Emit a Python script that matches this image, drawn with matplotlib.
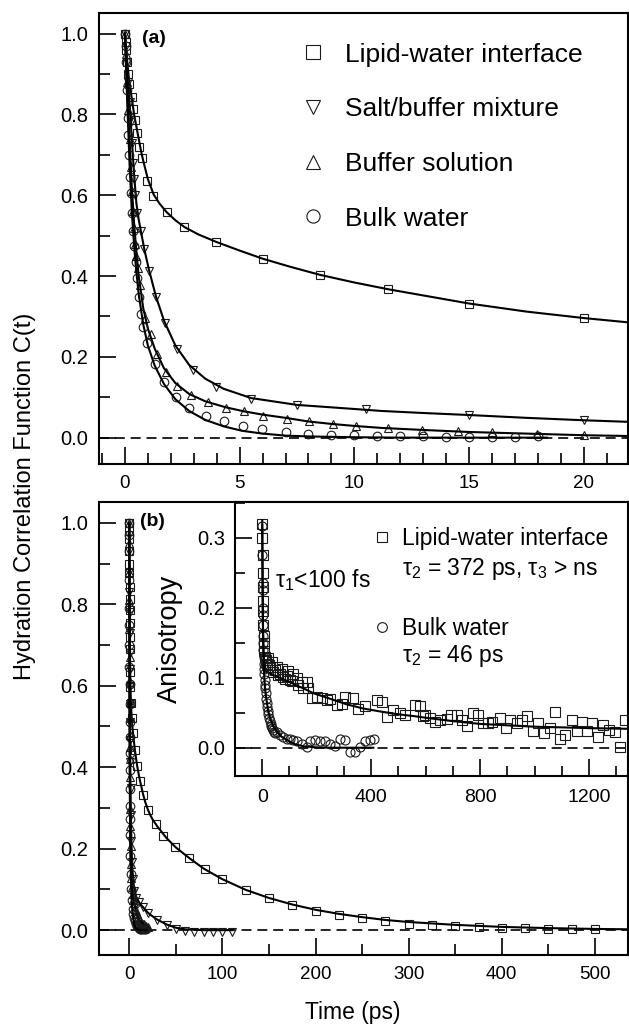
import matplotlib
matplotlib.use("Agg")
import matplotlib.pyplot as plt
from matplotlib.lines import Line2D
from matplotlib.ticker import MultipleLocator, FormatStrFormatter

plt.rcParams["font.family"] = ["Liberation Sans", "DejaVu Sans"]
plt.rcParams["mathtext.fontset"] = "custom"
plt.rcParams["mathtext.rm"] = "Liberation Sans"
plt.rcParams["mathtext.it"] = "Liberation Sans"
plt.rcParams["mathtext.bf"] = "Liberation Sans:bold"

# ---- hydration correlation data, time in ps (shared by panels a and b) ----
lipid_t = [0, 0.03, 0.06, 0.1, 0.14, 0.19, 0.29, 0.36, 0.45, 0.54, 0.62, 0.73, 0.97, 1.24,
           1.82, 2.59, 3.97, 6.0, 8.49, 11.47, 15.0, 20.0, 28.5, 36.5, 49, 64, 81, 100,
           125, 150, 175, 200, 225, 250, 275, 300, 325, 350, 375, 400, 425, 450, 475, 500]
lipid_c = [1.0, 0.98, 0.96, 0.93, 0.90, 0.876, 0.843, 0.814, 0.786, 0.753, 0.720, 0.691, 0.634,
           0.597, 0.558, 0.521, 0.484, 0.443, 0.403, 0.367, 0.332, 0.296, 0.260, 0.231, 0.203,
           0.176, 0.150, 0.125, 0.098, 0.080, 0.061, 0.047, 0.037, 0.030, 0.023, 0.016, 0.013,
           0.011, 0.008, 0.006, 0.005, 0.002, 0.002, 0.002]
lipid_fit_t = [0, 0.1, 0.2, 0.3, 0.4, 0.5, 0.6, 0.7, 0.8, 1.0, 1.25, 1.5, 1.82, 2.2, 2.6, 3.2, 4,
               5, 6, 7.2, 8.5, 10, 11.5, 13, 15, 17.5, 20, 22, 25, 30, 40, 50, 65, 80, 100, 125,
               150, 175, 200, 225, 250, 275, 300, 350, 400, 450, 500, 540]
lipid_fit_c = [1.0, 0.93, 0.875, 0.84, 0.80, 0.77, 0.74, 0.71, 0.685, 0.64, 0.602, 0.58, 0.558,
               0.538, 0.521, 0.503, 0.484, 0.463, 0.443, 0.423, 0.403, 0.384, 0.367, 0.352,
               0.332, 0.312, 0.296, 0.285, 0.272, 0.255, 0.226, 0.203, 0.176, 0.151, 0.125,
               0.099, 0.079, 0.063, 0.050, 0.040, 0.032, 0.025, 0.020, 0.013, 0.008, 0.005,
               0.003, 0.002]

salt_t = [0, 0.05, 0.1, 0.15, 0.2, 0.25, 0.3, 0.35, 0.4, 0.45, 0.51, 0.70, 0.84, 1.06, 1.35,
          1.74, 2.28, 2.95, 3.97, 5.49, 7.49, 10.5, 15.0, 20.0, 30, 40, 50, 60, 70, 80, 90,
          100, 110]
salt_c = [1.0, 0.97, 0.93, 0.88, 0.83, 0.78, 0.73, 0.68, 0.64, 0.60, 0.556, 0.511, 0.466, 0.412,
          0.349, 0.283, 0.219, 0.168, 0.125, 0.096, 0.080, 0.070, 0.057, 0.043, 0.024, 0.013,
          0.003, -0.002, -0.004, -0.005, -0.005, -0.005, -0.005]
salt_fit_t = [0, 0.1, 0.2, 0.3, 0.4, 0.5, 0.6, 0.7, 0.85, 1.05, 1.35, 1.7, 2.2, 2.8, 3.5, 4.3,
              5.5, 7.5, 9, 11.2, 13, 15, 17.5, 20, 22, 25, 30, 40, 50, 60, 80, 111]
salt_fit_c = [1.0, 0.92, 0.83, 0.74, 0.65, 0.58, 0.54, 0.51, 0.465, 0.415, 0.35, 0.29, 0.228,
              0.18, 0.146, 0.121, 0.098, 0.081, 0.075, 0.066, 0.061, 0.056, 0.049, 0.043,
              0.039, 0.034, 0.026, 0.014, 0.006, 0.002, 0.0, 0.0]

buffer_t = [0, 0.05, 0.1, 0.15, 0.2, 0.25, 0.3, 0.35, 0.4, 0.45, 0.5, 0.55, 0.65, 0.87, 1.12,
            1.38, 1.79, 2.28, 2.88, 3.61, 4.39, 5.19, 6.03, 7.05, 8.04, 9.06, 10.06, 11.46,
            12.97, 14.5, 15.99, 17.98, 20.0]
buffer_c = [1.0, 0.95, 0.88, 0.81, 0.74, 0.67, 0.61, 0.56, 0.52, 0.48, 0.45, 0.42, 0.377,
            0.297, 0.256, 0.207, 0.163, 0.129, 0.106, 0.089, 0.073, 0.066, 0.053, 0.047,
            0.040, 0.033, 0.028, 0.024, 0.018, 0.016, 0.014, 0.010, 0.007]
buffer_fit_t = [0, 0.1, 0.2, 0.3, 0.4, 0.5, 0.6, 0.8, 1.0, 1.3, 1.7, 2.2, 2.8, 3.5, 4.4, 5.2, 6,
                7, 8, 9, 10, 11.2, 13, 15, 17.5, 20, 22]
buffer_fit_c = [1.0, 0.87, 0.74, 0.62, 0.53, 0.46, 0.40, 0.32, 0.27, 0.22, 0.172, 0.135, 0.108,
                0.09, 0.075, 0.065, 0.057, 0.049, 0.040, 0.034, 0.029, 0.024, 0.019, 0.014,
                0.010, 0.006, 0.004]

bulk_t = [0, 0.03, 0.06, 0.09, 0.12, 0.15, 0.18, 0.21, 0.25, 0.29, 0.36, 0.41, 0.47, 0.51, 0.61,
          0.68, 0.80, 0.97, 1.31, 1.70, 2.22, 2.80, 3.53, 4.33, 5.13, 5.99, 7.02, 8.0, 9.0,
          10.0, 11.0, 12, 13, 14, 15, 16, 17, 18]
bulk_c = [1.0, 0.97, 0.93, 0.86, 0.79, 0.75, 0.70, 0.646, 0.605, 0.556, 0.511, 0.474, 0.435,
          0.394, 0.347, 0.305, 0.273, 0.234, 0.182, 0.137, 0.100, 0.073, 0.053, 0.040, 0.029,
          0.022, 0.014, 0.009, 0.007, 0.006, 0.004, 0.003, 0.003, 0.002, 0.002, 0.002, 0.002,
          0.003]
bulk_fit_t = [0, 0.1, 0.2, 0.3, 0.4, 0.5, 0.6, 0.8, 1.0, 1.3, 1.7, 2.2, 2.8, 3.5, 4.3, 5.1, 6,
              7, 8, 10, 12, 15, 18.4]
bulk_fit_c = [1.0, 0.83, 0.68, 0.56, 0.475, 0.41, 0.355, 0.28, 0.228, 0.178, 0.133, 0.095,
              0.066, 0.044, 0.028, 0.017, 0.010, 0.005, 0.003, 0.001, 0.0, 0.0, 0.0]

# ---- anisotropy (inset), time in ps ----
lipid_r_t = [0, 0.5, 1, 1.5, 2, 2.5, 3, 4, 5, 6, 8, 10, 13, 16, 20, 24, 28, 35, 41, 47, 53, 59,
             65, 71, 77, 84, 90, 96, 102, 108, 114, 126, 133, 145, 151, 163, 169, 181, 200,
             218, 236, 249, 273, 292, 304, 334, 353, 377, 420, 438, 457, 481, 506, 524, 561,
             579, 591, 598, 616, 634, 653, 677, 692, 714, 732, 751, 773, 793, 812, 830, 842,
             873, 895, 910, 934, 953, 973, 995, 1014, 1035, 1057, 1075, 1093, 1113, 1136,
             1155, 1173, 1191, 1212, 1234, 1252, 1274, 1295, 1314, 1332]
lipid_r_a = [0.320, 0.300, 0.275, 0.250, 0.230, 0.210, 0.195, 0.175, 0.160, 0.150, 0.138,
             0.130, 0.125, 0.120, 0.128, 0.118, 0.116, 0.122, 0.108, 0.111, 0.115, 0.104,
             0.106, 0.112, 0.101, 0.098, 0.103, 0.109, 0.097, 0.095, 0.106, 0.099, 0.090,
             0.094, 0.086, 0.094, 0.085, 0.071, 0.073, 0.071, 0.068, 0.070, 0.061, 0.063,
             0.073, 0.071, 0.056, 0.059, 0.068, 0.066, 0.044, 0.054, 0.049, 0.047, 0.061,
             0.060, 0.045, 0.047, 0.043, 0.037, 0.040, 0.041, 0.047, 0.047, 0.040, 0.031,
             0.050, 0.047, 0.035, 0.036, 0.037, 0.043, 0.028, 0.040, 0.036, 0.040, 0.045,
             0.024, 0.036, 0.021, 0.028, 0.051, 0.012, 0.018, 0.040, 0.024, 0.037, 0.024,
             0.035, 0.015, 0.032, 0.025, 0.023, 0.001, 0.039]
lipid_r_fit_t = [0, 1, 2, 3, 5, 8, 12, 20, 40, 70, 100, 126, 150, 187, 249, 310, 371, 430, 494,
                 560, 616, 700, 800, 900, 1000, 1106, 1200, 1345]
lipid_r_fit_a = [0.325, 0.26, 0.21, 0.17, 0.135, 0.118, 0.112, 0.108, 0.104, 0.099, 0.094,
                 0.089, 0.085, 0.078, 0.070, 0.062, 0.056, 0.052, 0.048, 0.045, 0.042, 0.038,
                 0.034, 0.032, 0.030, 0.029, 0.028, 0.027]

bulk_r_t = [0, 0.5, 1, 1.5, 2, 2.5, 3, 3.5, 4, 4.5, 5, 6, 7, 8, 9, 10, 11, 12, 14, 16, 18, 20,
            22, 25, 28, 31, 34, 37, 40, 44, 48, 53, 65, 77, 90, 102, 114, 126, 145, 163, 175,
            194, 212, 230, 249, 267, 285, 304, 322, 340, 359, 377, 396, 410]
bulk_r_a = [0.317, 0.275, 0.235, 0.226, 0.200, 0.190, 0.175, 0.160, 0.150, 0.140, 0.130, 0.120,
            0.112, 0.105, 0.097, 0.090, 0.085, 0.078, 0.070, 0.064, 0.058, 0.053, 0.048,
            0.043, 0.038, 0.034, 0.031, 0.028, 0.026, 0.023, 0.021, 0.023, 0.018, 0.016,
            0.013, 0.012, 0.011, 0.010, 0.006, 0.001, 0.009, 0.011, 0.010, 0.009, 0.006,
            0.002, 0.013, 0.011, -0.006, -0.006, 0.001, 0.009, 0.011, 0.012]
bulk_r_fit_t = [0, 1, 2, 3, 5, 7, 10, 15, 22, 30, 40, 53, 70, 90, 120, 151, 200, 250, 300, 350,
                408]
bulk_r_fit_a = [0.318, 0.25, 0.19, 0.16, 0.125, 0.105, 0.085, 0.070, 0.052, 0.041, 0.031,
                0.023, 0.016, 0.011, 0.005, 0.002, 0.0005, 0.0, 0.0, 0.0, 0.0]

legend_labels = ["Lipid-water interface", "Salt/buffer mixture", "Buffer solution", "Bulk water"]

W, H = 629, 1024
fig = plt.figure(figsize=(W / 100, H / 100), dpi=100)


def box(l, t, r, b):
    return [l / W, 1 - b / H, (r - l) / W, (b - t) / H]


ax_a = fig.add_axes(box(99, 13, 628, 463.5))
ax_b = fig.add_axes(box(99, 502, 628, 955))
ax_in = fig.add_axes(box(235, 502, 628, 776))

mk = dict(ls="none", mfc="none", mec="#1a1a1a", mew=0.8)
fit = dict(color="k", lw=1.5)
series = [(lipid_t, lipid_c, lipid_fit_t, lipid_fit_c, "s"),
          (salt_t, salt_c, salt_fit_t, salt_fit_c, "v"),
          (buffer_t, buffer_c, buffer_fit_t, buffer_fit_c, "^"),
          (bulk_t, bulk_c, bulk_fit_t, bulk_fit_c, "o")]

for ax in (ax_a, ax_b):
    for t, c, ft, fc, m in series:
        ax.plot(t, c, marker=m, ms=6.2, **mk)
        ax.plot(ft, fc, **fit)
    ax.axhline(0, color="k", lw=1.2, ls=(0, (6, 3.5)), zorder=0)
    ax.yaxis.set_major_locator(MultipleLocator(0.2))
    ax.yaxis.set_minor_locator(MultipleLocator(0.1))
    ax.yaxis.set_major_formatter(FormatStrFormatter("%.1f"))
    ax.tick_params(which="both", direction="in", labelsize=13.5, width=1.2)
    ax.tick_params(which="major", length=12)
    ax.tick_params(which="minor", length=8)
    ax.tick_params(axis="y", pad=8, labelsize=14.5)
    ax.tick_params(axis="x", pad=8)
    for s in ax.spines.values():
        s.set_linewidth(1.5)

ax_a.set_xlim(-1.13, 21.93)
ax_a.set_ylim(-0.064, 1.051)
ax_a.xaxis.set_major_locator(MultipleLocator(5))
ax_a.xaxis.set_minor_locator(MultipleLocator(1))

ax_b.set_xlim(-32.5, 535.5)
ax_b.set_ylim(-0.061, 1.051)
ax_b.xaxis.set_major_locator(MultipleLocator(100))
ax_b.xaxis.set_minor_locator(MultipleLocator(50))

ax_a.text(0.081, 0.9445, "(a)", transform=ax_a.transAxes, fontsize=14, fontweight="bold",
          va="center", ha="left")
ax_b.text(0.0775, 0.958, "(b)", transform=ax_b.transAxes, fontsize=14, fontweight="bold",
          va="center", ha="left")

handles = [Line2D([], [], marker=m, ms=9.5, **mk) for _, _, _, _, m in series]
ax_a.legend(handles, legend_labels, loc="upper left", bbox_to_anchor=(0.3796, 0.934),
            frameon=False, fontsize=19, handlelength=1.0, handletextpad=0.71,
            labelspacing=1.16, borderpad=0, borderaxespad=0)

# inset
ax_in.plot(lipid_r_t, lipid_r_a, marker="s", ms=6.5, **mk)
ax_in.plot(lipid_r_fit_t, lipid_r_fit_a, **fit)
ax_in.plot(bulk_r_t, bulk_r_a, marker="o", ms=6.5, **mk)
ax_in.plot(bulk_r_fit_t, bulk_r_fit_a, **fit)
ax_in.axhline(0, color="k", lw=1.2, ls=(0, (6, 3.5)), zorder=0)
ax_in.set_xlim(-100, 1343)
ax_in.set_ylim(-0.0404, 0.351)
ax_in.xaxis.set_major_locator(MultipleLocator(400))
ax_in.xaxis.set_minor_locator(MultipleLocator(100))
ax_in.yaxis.set_major_locator(MultipleLocator(0.1))
ax_in.yaxis.set_minor_locator(MultipleLocator(0.05))
ax_in.yaxis.set_major_formatter(FormatStrFormatter("%.1f"))
ax_in.tick_params(which="both", direction="in", labelsize=14, width=1.2)
ax_in.tick_params(which="major", length=12)
ax_in.tick_params(which="minor", length=7)
ax_in.tick_params(axis="y", pad=7, labelsize=14.5)
ax_in.tick_params(axis="x", pad=9)
for s in ax_in.spines.values():
    s.set_linewidth(1.5)
ax_in.set_ylabel("Anisotropy", fontsize=19.5)
ax_in.yaxis.set_label_coords(-0.132, 0.5)

in_handles = [Line2D([], [], marker="s", ms=7, **mk), Line2D([], [], marker="o", ms=7, **mk)]
ax_in.legend(in_handles, ["Lipid-water interface", "Bulk water"], loc="upper left",
             bbox_to_anchor=(0.357, 0.908), frameon=False, fontsize=16.5, handlelength=0.6,
             handletextpad=0.55, labelspacing=2.9, borderpad=0, borderaxespad=0)
ax_in.text(0.425, 0.7336, "τ$_2$ = 372 ps, τ$_3$ > ns", transform=ax_in.transAxes,
           fontsize=16.5, va="baseline", ha="left")
ax_in.text(0.425, 0.416, "τ$_2$ = 46 ps", transform=ax_in.transAxes,
           fontsize=16.5, va="baseline", ha="left")
ax_in.text(0.102, 0.690, "τ$_1$<100 fs", transform=ax_in.transAxes,
           fontsize=16.5, va="baseline", ha="left")

fig.text(0.040, 0.5156, "Hydration Correlation Function C(t)", rotation=90, fontsize=17,
         ha="center", va="center")
fig.text(353 / W, 1 - 1019 / H, "Time (ps)", fontsize=16.5, ha="center", va="baseline")

fig.savefig("out.png", dpi=100)
